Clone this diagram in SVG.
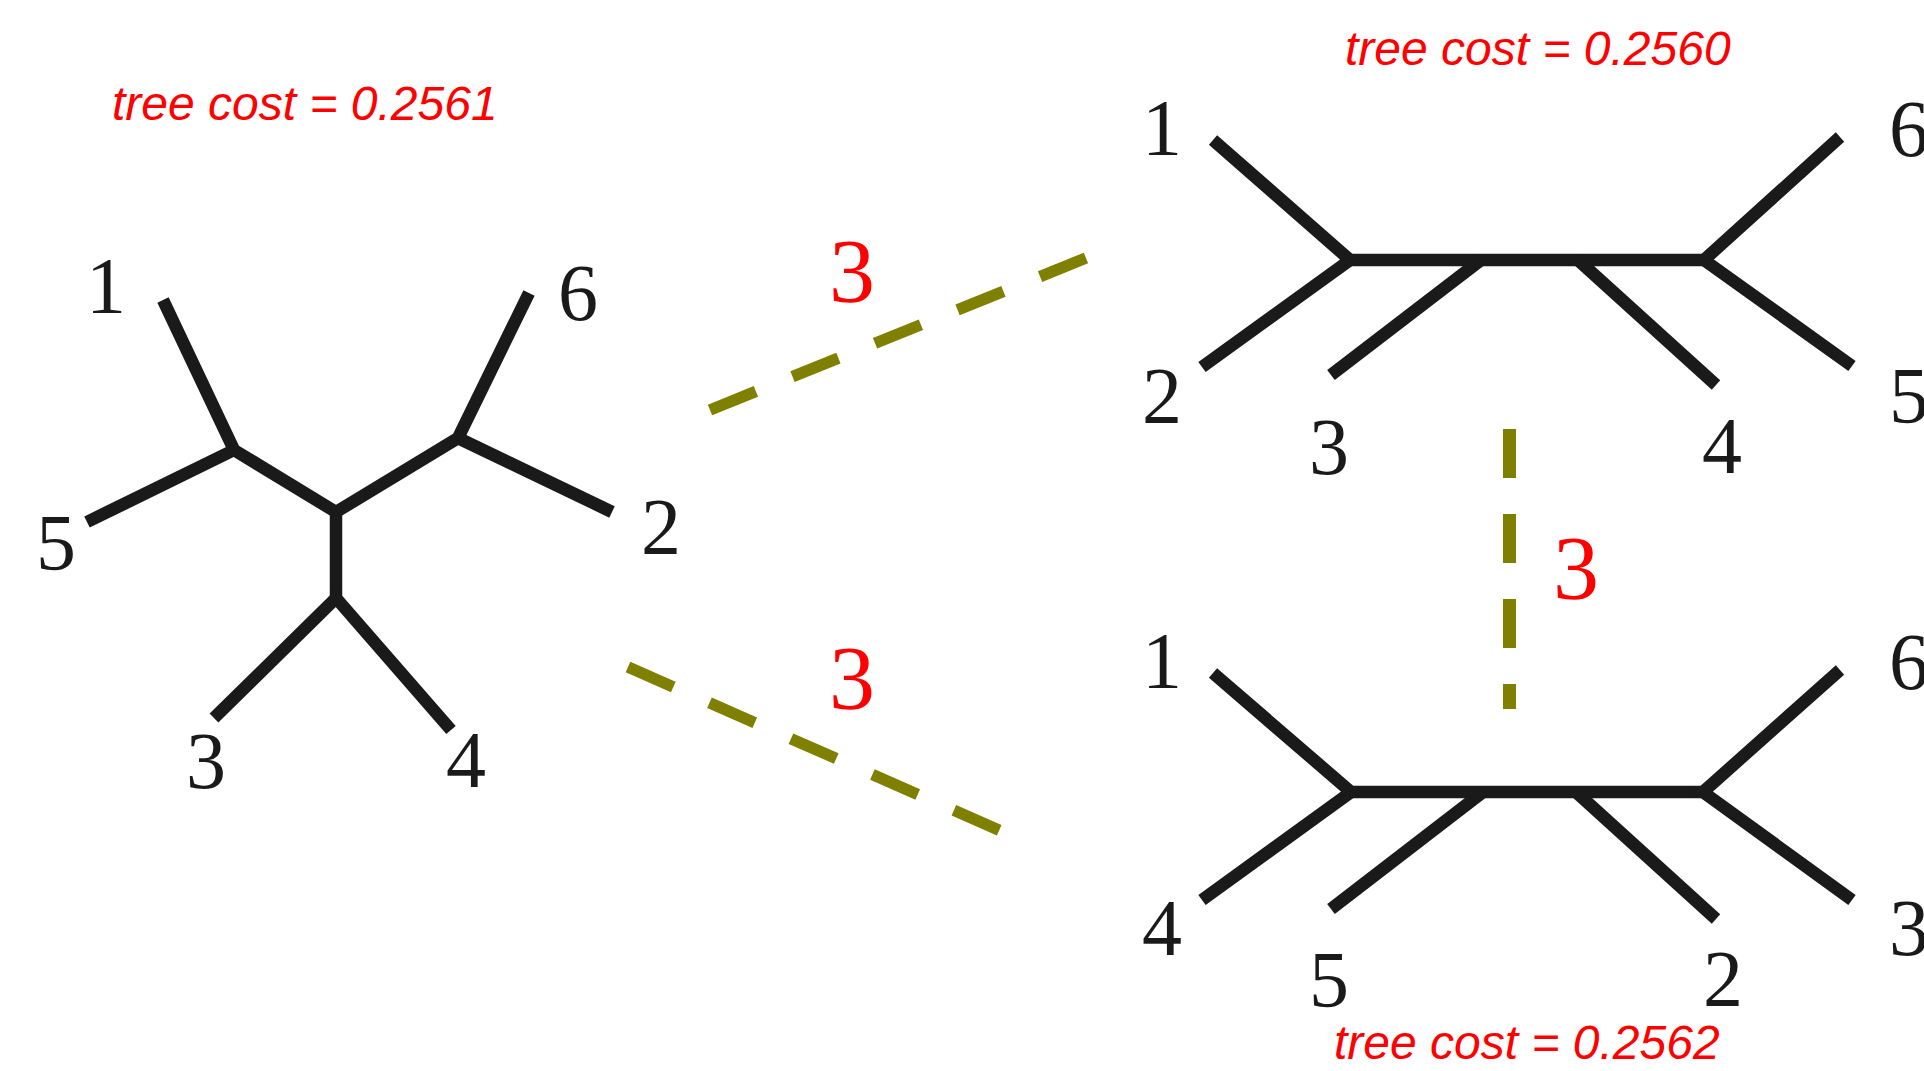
<svg xmlns="http://www.w3.org/2000/svg" width="1924" height="1071" viewBox="0 0 1924 1071">
<style>
.br{fill:none;stroke:#1a1a1a;stroke-width:12.5;stroke-linecap:butt;stroke-linejoin:miter;stroke-miterlimit:10}
.lab{font-family:"Liberation Serif","Times New Roman",serif;font-size:80px;fill:#1a1a1a;text-anchor:middle}
.cost{font-family:"Liberation Sans",Arial,sans-serif;font-style:italic;font-size:48px;fill:#ff0000}
.dist{font-family:"Liberation Serif","Times New Roman",serif;font-size:92px;fill:#ff0000;text-anchor:middle}
.dash{fill:none;stroke:#808000;stroke-width:11.5;stroke-linecap:butt}
</style>
<rect width="1924" height="1071" fill="#ffffff"/>
<g id="tree-left">
<path class="br" d="M163,300 L234,450 L336,512 L458,438 L529,293"/>
<path class="br" d="M87,522 L234,450"/>
<path class="br" d="M612,512 L458,438"/>
<path class="br" d="M336,512 L336,598"/>
<path class="br" d="M214,718 L336,598 L451,730"/>
<text class="lab" x="106" y="313">1</text>
<text class="lab" x="578" y="320">6</text>
<text class="lab" x="56" y="570">5</text>
<text class="lab" x="661" y="554">2</text>
<text class="lab" x="206" y="788">3</text>
<text class="lab" x="466" y="787">4</text>
<text class="cost" x="112" y="120">tree cost = 0.2561</text>
</g>
<g id="tree-top">
<path class="br" d="M1213,140 L1350,260 L1202,367"/>
<path class="br" d="M1350,260 L1704,260"/>
<path class="br" d="M1840,137 L1704,260 L1852,366"/>
<path class="br" d="M1481,260 L1331,375"/>
<path class="br" d="M1578,260 L1716,385"/>
<text class="lab" x="1162" y="155">1</text>
<text class="lab" x="1162" y="423">2</text>
<text class="lab" x="1329" y="474">3</text>
<text class="lab" x="1722" y="473">4</text>
<text class="lab" x="1889" y="156" style="text-anchor:start">6</text>
<text class="lab" x="1889" y="423" style="text-anchor:start">5</text>
<text class="cost" x="1345" y="65">tree cost = 0.2560</text>
</g>
<g id="tree-bottom">
<path class="br" d="M1213,673 L1351,792 L1202,900"/>
<path class="br" d="M1351,792 L1703,792"/>
<path class="br" d="M1840,670 L1703,792 L1852,900"/>
<path class="br" d="M1483,792 L1331,909"/>
<path class="br" d="M1576,792 L1716,919"/>
<text class="lab" x="1162" y="688">1</text>
<text class="lab" x="1162" y="955">4</text>
<text class="lab" x="1329" y="1007">5</text>
<text class="lab" x="1723" y="1006">2</text>
<text class="lab" x="1889" y="689" style="text-anchor:start">6</text>
<text class="lab" x="1889" y="955" style="text-anchor:start">3</text>
<text class="cost" x="1334" y="1059">tree cost = 0.2562</text>
</g>
<g id="connectors">
<path class="dash" d="M710,410 L1086,258" stroke-dasharray="49.5 39.5"/>
<path class="dash" d="M628,667 L1001,831" stroke-dasharray="49.5 39.5"/>
<path class="dash" d="M1509.5,429 L1509.5,709" stroke-dasharray="49 36" style="stroke-width:13"/>
<text class="dist" x="852" y="302">3</text>
<text class="dist" x="852" y="709">3</text>
<text class="dist" x="1576" y="599">3</text>
</g>
</svg>
